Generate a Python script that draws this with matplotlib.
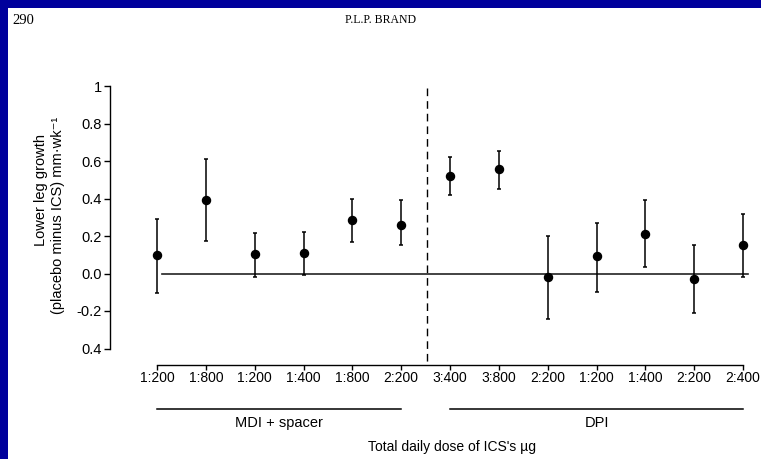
import matplotlib
matplotlib.use("Agg")
import matplotlib.pyplot as plt
from matplotlib.patches import Rectangle

plt.rcParams['font.family'] = ['Liberation Sans', 'DejaVu Sans']

# ---- data ----
categories = ["1:200", "1:800", "1:200", "1:400", "1:800", "2:200",
              "3:400", "3:800", "2:200", "1:200", "1:400", "2:200", "2:400"]
means = [0.10, 0.39, 0.105, 0.107, 0.283, 0.26,
         0.52, 0.557, -0.02, 0.095, 0.21, -0.03, 0.15]
upper = [0.29, 0.61, 0.215, 0.22, 0.40, 0.39,
         0.62, 0.655, 0.20, 0.27, 0.39, 0.15, 0.315]
lower = [-0.105, 0.176, -0.02, -0.007, 0.167, 0.153,
         0.42, 0.45, -0.243, -0.10, 0.033, -0.21, -0.02]
ytick_values = [1.0, 0.8, 0.6, 0.4, 0.2, 0.0, -0.2, -0.4]
ytick_labels = ["1", "0.8", "0.6", "0.4", "0.2", "0.0", "-0.2", "0.4"]
groups = ["MDI + spacer", "DPI"]
group_spans = [(0, 5), (6, 12)]

W, H = 761, 459
fig = plt.figure(figsize=(W / 100, H / 100), dpi=100)
fig.patch.set_facecolor("white")

# blue frame (top and left)
blue = "#00009c"
fig.patches.append(Rectangle((0, (H - 8) / H), 1, 8 / H, transform=fig.transFigure,
                             facecolor=blue, edgecolor="none", zorder=0))
fig.patches.append(Rectangle((0, 0), 8 / W, 1, transform=fig.transFigure,
                             facecolor=blue, edgecolor="none", zorder=0))

# header
fig.text(12 / W, 1 - 20 / H, "290", family="Liberation Serif", fontsize=10.5,
         ha="left", va="center")
fig.text(381 / W, 1 - 20 / H, "P.L.P. BRAND", family="Liberation Serif", fontsize=8.5,
         ha="center", va="center")

ax_l, ax_r, ax_t, ax_b = 110, 760, 86, 365
ax = fig.add_axes([ax_l / W, (H - ax_b) / H, (ax_r - ax_l) / W, (ax_b - ax_t) / H])
ax.set_facecolor("none")

x = list(range(len(categories)))
yerr = [[m - lo for m, lo in zip(means, lower)], [u - m for m, u in zip(means, upper)]]
ax.errorbar(x, means, yerr=yerr, fmt="o", color="black", ms=5.8, elinewidth=1.1,
            capsize=1.6, capthick=1.1, zorder=3)

ax.plot([0.1, 12.1], [0, 0], color="#222222", lw=1.2, zorder=2)
ax.plot([5.53, 5.53], [0.99, -0.488], color="black", lw=1.0,
        dashes=(5.5, 3.6), clip_on=False, zorder=2)

ax.set_xlim(-0.9625, 12.348)
ax.set_ylim(-0.488, 1.0)

for s in ("top", "right"):
    ax.spines[s].set_visible(False)
ax.spines["left"].set_bounds(-0.4, 1.0)
ax.spines["bottom"].set_bounds(0, 12)
ax.spines["left"].set_linewidth(1.0)
ax.spines["bottom"].set_linewidth(1.0)

ax.set_yticks(ytick_values)
ax.set_yticklabels(ytick_labels)
ax.set_xticks(x)
ax.set_xticklabels(categories)
ax.tick_params(axis="y", length=4, width=1, pad=2, labelsize=10.5)
ax.tick_params(axis="x", length=3.5, width=1, pad=1.0, labelsize=10)

# group lines and labels
for name, (a, b) in zip(groups, group_spans):
    ax.plot([a, b], [-0.723, -0.723], color="black", lw=1.1, clip_on=False)
    ax.text((a + b) / 2, -0.797, name, ha="center", va="center", fontsize=10.5,
            clip_on=False)

ax.text(6.04, -0.925, "Total daily dose of ICS's \u00b5g", ha="center", va="center",
        fontsize=10, clip_on=False)

# y-axis label (two lines)
fig.text(41 / W, 1 - 190 / H, "Lower leg growth", rotation=90, ha="center",
         va="center", fontsize=10.5)
fig.text(58 / W, 1 - 215 / H, "(placebo minus ICS) mm\u00b7wk\u207b\u00b9", rotation=90,
         ha="center", va="center", fontsize=10.5)

fig.savefig("out.png", dpi=100)
